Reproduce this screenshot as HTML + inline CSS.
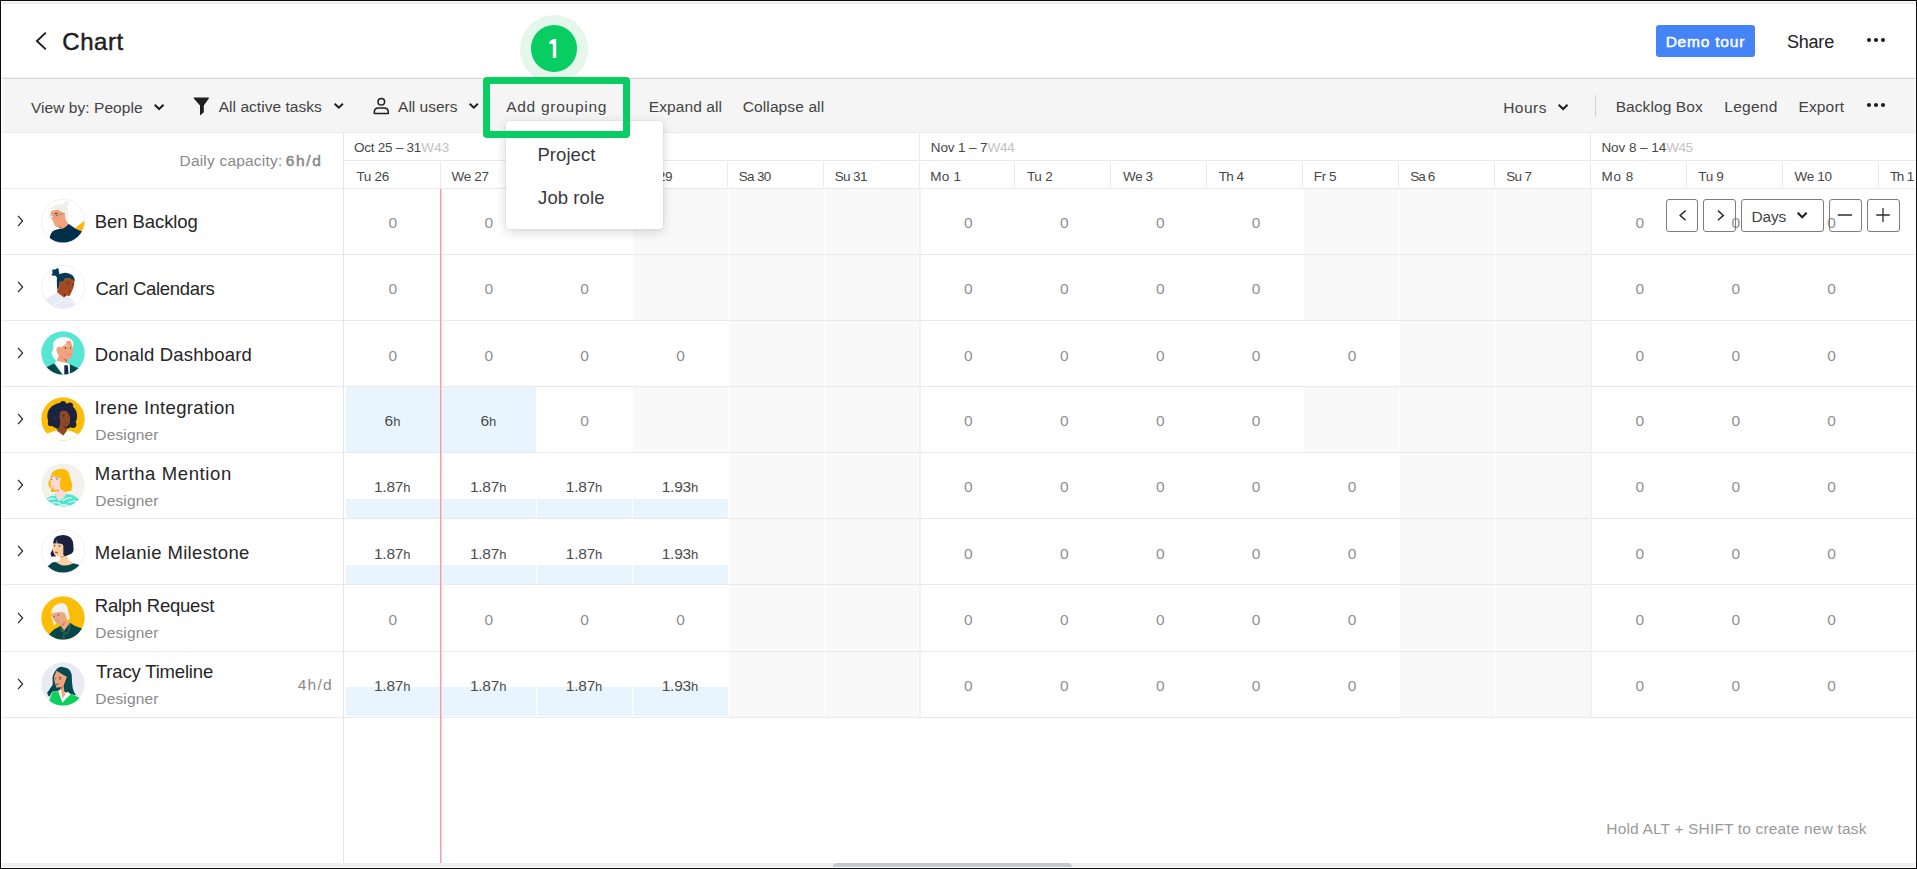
<!DOCTYPE html>
<html lang="en"><head><meta charset="utf-8"><title>Chart</title>
<style>
html,body{margin:0;padding:0;}
body{width:1917px;height:869px;overflow:hidden;background:#fff;position:relative;font-family:"Liberation Sans",sans-serif;}
#app{position:absolute;left:0;top:0;width:1917px;height:869px;overflow:hidden;}
#app div,#app span.t,#app svg{position:absolute;}
span.t{white-space:pre;}
.btn{box-sizing:border-box;border:1px solid #7d7d7d;border-radius:3px;background:transparent;}
</style></head><body><div id="app">
<div style="left:2px;top:2px;width:1913px;height:2px;background:#ececec;"></div>
<div style="left:2px;top:79px;width:1913px;height:53px;background:#f5f5f5;"></div>
<div style="left:2px;top:78px;width:1913px;height:1px;background:#d6d6d6;"></div>
<div style="left:2px;top:77px;width:1913px;height:1px;background:#f3f3f3;"></div>
<div style="left:2px;top:132px;width:1913px;height:1px;background:#ebebeb;"></div>
<div style="left:633px;top:189px;width:95px;height:65px;background:#f9f9f9;"></div>
<div style="left:729px;top:189px;width:95px;height:65px;background:#f9f9f9;"></div>
<div style="left:825px;top:189px;width:95px;height:65px;background:#f9f9f9;"></div>
<div style="left:1304px;top:189px;width:95px;height:65px;background:#f9f9f9;"></div>
<div style="left:1400px;top:189px;width:95px;height:65px;background:#f9f9f9;"></div>
<div style="left:1496px;top:189px;width:95px;height:65px;background:#f9f9f9;"></div>
<div style="left:633px;top:255px;width:95px;height:65px;background:#f9f9f9;"></div>
<div style="left:729px;top:255px;width:95px;height:65px;background:#f9f9f9;"></div>
<div style="left:825px;top:255px;width:95px;height:65px;background:#f9f9f9;"></div>
<div style="left:1304px;top:255px;width:95px;height:65px;background:#f9f9f9;"></div>
<div style="left:1400px;top:255px;width:95px;height:65px;background:#f9f9f9;"></div>
<div style="left:1496px;top:255px;width:95px;height:65px;background:#f9f9f9;"></div>
<div style="left:729px;top:321px;width:95px;height:65px;background:#f9f9f9;"></div>
<div style="left:825px;top:321px;width:95px;height:65px;background:#f9f9f9;"></div>
<div style="left:1400px;top:321px;width:95px;height:65px;background:#f9f9f9;"></div>
<div style="left:1496px;top:321px;width:95px;height:65px;background:#f9f9f9;"></div>
<div style="left:633px;top:387px;width:95px;height:65px;background:#f9f9f9;"></div>
<div style="left:729px;top:387px;width:95px;height:65px;background:#f9f9f9;"></div>
<div style="left:825px;top:387px;width:95px;height:65px;background:#f9f9f9;"></div>
<div style="left:1304px;top:387px;width:95px;height:65px;background:#f9f9f9;"></div>
<div style="left:1400px;top:387px;width:95px;height:65px;background:#f9f9f9;"></div>
<div style="left:1496px;top:387px;width:95px;height:65px;background:#f9f9f9;"></div>
<div style="left:729px;top:453px;width:95px;height:65px;background:#f9f9f9;"></div>
<div style="left:825px;top:453px;width:95px;height:65px;background:#f9f9f9;"></div>
<div style="left:1400px;top:453px;width:95px;height:65px;background:#f9f9f9;"></div>
<div style="left:1496px;top:453px;width:95px;height:65px;background:#f9f9f9;"></div>
<div style="left:729px;top:519px;width:95px;height:65px;background:#f9f9f9;"></div>
<div style="left:825px;top:519px;width:95px;height:65px;background:#f9f9f9;"></div>
<div style="left:1400px;top:519px;width:95px;height:65px;background:#f9f9f9;"></div>
<div style="left:1496px;top:519px;width:95px;height:65px;background:#f9f9f9;"></div>
<div style="left:729px;top:585px;width:95px;height:66px;background:#f9f9f9;"></div>
<div style="left:825px;top:585px;width:95px;height:66px;background:#f9f9f9;"></div>
<div style="left:1400px;top:585px;width:95px;height:66px;background:#f9f9f9;"></div>
<div style="left:1496px;top:585px;width:95px;height:66px;background:#f9f9f9;"></div>
<div style="left:729px;top:652px;width:95px;height:65px;background:#f9f9f9;"></div>
<div style="left:825px;top:652px;width:95px;height:65px;background:#f9f9f9;"></div>
<div style="left:1400px;top:652px;width:95px;height:65px;background:#f9f9f9;"></div>
<div style="left:1496px;top:652px;width:95px;height:65px;background:#f9f9f9;"></div>
<div style="left:346px;top:387px;width:94px;height:65px;background:#e9f5fe;"></div>
<div style="left:442px;top:387px;width:94px;height:65px;background:#e9f5fe;"></div>
<div style="left:346px;top:499px;width:94px;height:19px;background:#e9f5fe;"></div>
<div style="left:442px;top:499px;width:94px;height:19px;background:#e9f5fe;"></div>
<div style="left:537px;top:499px;width:95px;height:19px;background:#e9f5fe;"></div>
<div style="left:633px;top:499px;width:95px;height:19px;background:#e9f5fe;"></div>
<div style="left:346px;top:565px;width:94px;height:19px;background:#e9f5fe;"></div>
<div style="left:442px;top:565px;width:94px;height:19px;background:#e9f5fe;"></div>
<div style="left:537px;top:565px;width:95px;height:19px;background:#e9f5fe;"></div>
<div style="left:633px;top:565px;width:95px;height:19px;background:#e9f5fe;"></div>
<div style="left:346px;top:687px;width:94px;height:29px;background:#e9f5fe;"></div>
<div style="left:442px;top:687px;width:94px;height:29px;background:#e9f5fe;"></div>
<div style="left:537px;top:687px;width:95px;height:29px;background:#e9f5fe;"></div>
<div style="left:633px;top:687px;width:95px;height:29px;background:#e9f5fe;"></div>
<div style="left:2px;top:188px;width:1913px;height:1px;background:#e9e9e9;"></div>
<div style="left:2px;top:254px;width:1913px;height:1px;background:#e9e9e9;"></div>
<div style="left:2px;top:320px;width:1913px;height:1px;background:#e9e9e9;"></div>
<div style="left:2px;top:386px;width:1913px;height:1px;background:#e9e9e9;"></div>
<div style="left:2px;top:452px;width:1913px;height:1px;background:#e9e9e9;"></div>
<div style="left:2px;top:518px;width:1913px;height:1px;background:#e9e9e9;"></div>
<div style="left:2px;top:584px;width:1913px;height:1px;background:#e9e9e9;"></div>
<div style="left:2px;top:651px;width:1913px;height:1px;background:#e9e9e9;"></div>
<div style="left:2px;top:717px;width:1913px;height:1px;background:#e9e9e9;"></div>
<div style="left:344px;top:160px;width:1571px;height:1px;background:#e9e9e9;"></div>
<div style="left:343px;top:133px;width:1px;height:730px;background:#e4e4e4;"></div>
<div style="left:440px;top:162px;width:1px;height:25px;background:#e9e9e9;"></div>
<div style="left:535px;top:162px;width:1px;height:25px;background:#e9e9e9;"></div>
<div style="left:631px;top:162px;width:1px;height:25px;background:#e9e9e9;"></div>
<div style="left:727px;top:162px;width:1px;height:25px;background:#e9e9e9;"></div>
<div style="left:823px;top:162px;width:1px;height:25px;background:#e9e9e9;"></div>
<div style="left:919px;top:133px;width:1px;height:27px;background:#e9e9e9;"></div>
<div style="left:919px;top:162px;width:1px;height:25px;background:#e9e9e9;"></div>
<div style="left:919px;top:189px;width:2px;height:528px;background:#f2f2f2;"></div>
<div style="left:1014px;top:162px;width:1px;height:25px;background:#e9e9e9;"></div>
<div style="left:1110px;top:162px;width:1px;height:25px;background:#e9e9e9;"></div>
<div style="left:1206px;top:162px;width:1px;height:25px;background:#e9e9e9;"></div>
<div style="left:1302px;top:162px;width:1px;height:25px;background:#e9e9e9;"></div>
<div style="left:1398px;top:162px;width:1px;height:25px;background:#e9e9e9;"></div>
<div style="left:1494px;top:162px;width:1px;height:25px;background:#e9e9e9;"></div>
<div style="left:1590px;top:133px;width:1px;height:27px;background:#e9e9e9;"></div>
<div style="left:1590px;top:162px;width:1px;height:25px;background:#e9e9e9;"></div>
<div style="left:1590px;top:189px;width:2px;height:528px;background:#f2f2f2;"></div>
<div style="left:1686px;top:162px;width:1px;height:25px;background:#e9e9e9;"></div>
<div style="left:1782px;top:162px;width:1px;height:25px;background:#e9e9e9;"></div>
<div style="left:1878px;top:162px;width:1px;height:25px;background:#e9e9e9;"></div>
<div style="left:440px;top:189px;width:1px;height:674px;background:#f79da6;"></div>
<div style="left:441px;top:189px;width:1px;height:674px;background:#facdd1;"></div>
<span class="t" style="left:62.30px;top:25px;font-size:24px;line-height:33px;height:33px;color:#1e1e1e;letter-spacing:0.541px;-webkit-text-stroke:0.45px #1e1e1e;">Chart</span>
<svg style="left:30px;top:28px" width="22" height="26" viewBox="0 0 22 26"><path d="M15.8 4.6 L6.9 13 L15.8 21.4" fill="none" stroke="#1e1e1e" stroke-width="1.9"/></svg>
<div style="left:1656px;top:25px;width:99px;height:32px;background:#4584f7;border-radius:3px;"></div>
<span class="t" style="left:1665.63px;top:30px;font-size:15.5px;line-height:23px;height:23px;color:#fff;letter-spacing:0.796px;-webkit-text-stroke:0.5px #fff;">Demo tour</span>
<span class="t" style="left:1786.89px;top:29px;font-size:18px;line-height:26px;height:26px;color:#222;letter-spacing:-0.180px;">Share</span>
<svg style="left:1864.3px;top:36.3px" width="24" height="8" viewBox="0 0 24 8"><circle cx="5" cy="4" r="2.1" fill="#1e1e1e"/><circle cx="12" cy="4" r="2.1" fill="#1e1e1e"/><circle cx="19" cy="4" r="2.1" fill="#1e1e1e"/></svg>
<svg style="left:1864px;top:101px" width="24" height="8" viewBox="0 0 24 8"><circle cx="5" cy="4" r="2.1" fill="#1e1e1e"/><circle cx="12" cy="4" r="2.1" fill="#1e1e1e"/><circle cx="19" cy="4" r="2.1" fill="#1e1e1e"/></svg>
<span class="t" style="left:30.94px;top:96px;font-size:15.5px;line-height:23px;height:23px;color:#434343;letter-spacing:0.055px;">View by: People</span>
<span class="t" style="left:218.72px;top:95px;font-size:15.5px;line-height:23px;height:23px;color:#434343;letter-spacing:0.039px;">All active tasks</span>
<span class="t" style="left:398.07px;top:95px;font-size:15.5px;line-height:23px;height:23px;color:#434343;letter-spacing:-0.007px;">All users</span>
<span class="t" style="left:506.17px;top:95px;font-size:15.5px;line-height:23px;height:23px;color:#434343;letter-spacing:0.728px;">Add grouping</span>
<span class="t" style="left:648.73px;top:95px;font-size:15.5px;line-height:23px;height:23px;color:#434343;letter-spacing:0.101px;">Expand all</span>
<span class="t" style="left:742.73px;top:95px;font-size:15.5px;line-height:23px;height:23px;color:#434343;letter-spacing:0.116px;">Collapse all</span>
<span class="t" style="left:1503.13px;top:96px;font-size:15.5px;line-height:23px;height:23px;color:#434343;letter-spacing:0.494px;">Hours</span>
<span class="t" style="left:1615.63px;top:95px;font-size:15.5px;line-height:23px;height:23px;color:#434343;letter-spacing:0.086px;">Backlog Box</span>
<span class="t" style="left:1724.23px;top:95px;font-size:15.5px;line-height:23px;height:23px;color:#434343;letter-spacing:0.288px;">Legend</span>
<span class="t" style="left:1798.48px;top:95px;font-size:15.5px;line-height:23px;height:23px;color:#434343;letter-spacing:0.147px;">Export</span>
<div style="left:1595px;top:95px;width:1px;height:22px;background:#d2d2d2;"></div>
<svg style="left:151.75px;top:101.50px" width="14.25" height="9.90" viewBox="-2 -2 14.25 9.90"><path d="M0.7 0.7 L5.12 5.00 L9.55 0.7" fill="none" stroke="#1e1e1e" stroke-width="2.0"/></svg>
<svg style="left:331.50px;top:101.30px" width="13.60" height="9.60" viewBox="-2 -2 13.60 9.60"><path d="M0.7 0.7 L4.80 4.70 L8.90 0.7" fill="none" stroke="#1e1e1e" stroke-width="2.0"/></svg>
<svg style="left:466.50px;top:101.30px" width="13.60" height="9.60" viewBox="-2 -2 13.60 9.60"><path d="M0.7 0.7 L4.80 4.70 L8.90 0.7" fill="none" stroke="#1e1e1e" stroke-width="2.0"/></svg>
<svg style="left:1555.50px;top:101.50px" width="14.25" height="9.90" viewBox="-2 -2 14.25 9.90"><path d="M0.7 0.7 L5.12 5.00 L9.55 0.7" fill="none" stroke="#1e1e1e" stroke-width="2.0"/></svg>
<svg style="left:192px;top:96px" width="18" height="21" viewBox="0 0 18 21"><path d="M2.2 1.5 H16.4 Q17.3 1.5 16.8 2.4 L11.8 9.4 V16.3 L8 19.4 V9.4 L1.8 2.4 Q1.3 1.5 2.2 1.5 Z" fill="#1e1e1e"/></svg>
<svg style="left:372px;top:96px" width="19" height="20" viewBox="0 0 19 20"><circle cx="9.3" cy="5.8" r="3.3" fill="none" stroke="#1e1e1e" stroke-width="1.5"/><path d="M2.3 17.4 V16 Q2.3 11.9 6.6 11.9 H12 Q16.3 11.9 16.3 16 V17.4 Z" fill="none" stroke="#1e1e1e" stroke-width="1.5" stroke-linejoin="round"/></svg>
<span class="t" style="left:179.53px;top:149px;font-size:15.5px;line-height:23px;height:23px;color:#8a8a8a;letter-spacing:0.197px;">Daily capacity:</span>
<span class="t" style="left:285.83px;top:149px;font-size:15.5px;line-height:23px;height:23px;color:#868686;letter-spacing:1.601px;-webkit-text-stroke:0.45px #868686;">6h/d</span>
<span class="t" style="left:353.97px;top:137px;font-size:13.5px;line-height:21px;height:21px;color:#474747;letter-spacing:-0.251px;">Oct 25 – 31</span>
<span class="t" style="left:421.25px;top:137px;font-size:13.5px;line-height:21px;height:21px;color:#c2c2c2;letter-spacing:0.139px;">W43</span>
<span class="t" style="left:930.79px;top:137px;font-size:13.5px;line-height:21px;height:21px;color:#474747;letter-spacing:-0.125px;">Nov 1 – 7</span>
<span class="t" style="left:987.55px;top:137px;font-size:13.5px;line-height:21px;height:21px;color:#c2c2c2;letter-spacing:-0.255px;">W44</span>
<span class="t" style="left:1601.39px;top:137px;font-size:13.5px;line-height:21px;height:21px;color:#474747;letter-spacing:-0.054px;">Nov 8 – 14</span>
<span class="t" style="left:1666.35px;top:137px;font-size:13.5px;line-height:21px;height:21px;color:#c2c2c2;letter-spacing:-0.524px;">W45</span>
<span class="t" style="left:356.45px;top:166px;font-size:13.5px;line-height:21px;height:21px;color:#474747;letter-spacing:-0.311px;">Tu 26</span>
<span class="t" style="left:451.57px;top:166px;font-size:13.5px;line-height:21px;height:21px;color:#474747;letter-spacing:-0.336px;">We 27</span>
<span class="t" style="left:547.25px;top:166px;font-size:13.5px;line-height:21px;height:21px;color:#474747;letter-spacing:-0.473px;">Th 28</span>
<span class="t" style="left:642.37px;top:166px;font-size:13.5px;line-height:21px;height:21px;color:#474747;letter-spacing:-0.367px;">Fr 29</span>
<span class="t" style="left:738.79px;top:166px;font-size:13.5px;line-height:21px;height:21px;color:#474747;letter-spacing:-0.689px;">Sa 30</span>
<span class="t" style="left:834.72px;top:166px;font-size:13.5px;line-height:21px;height:21px;color:#474747;letter-spacing:-0.630px;">Su 31</span>
<span class="t" style="left:930.14px;top:166px;font-size:13.5px;line-height:21px;height:21px;color:#474747;letter-spacing:0.282px;">Mo 1</span>
<span class="t" style="left:1026.88px;top:166px;font-size:13.5px;line-height:21px;height:21px;color:#474747;letter-spacing:-0.247px;">Tu 2</span>
<span class="t" style="left:1123.05px;top:166px;font-size:13.5px;line-height:21px;height:21px;color:#474747;letter-spacing:-0.410px;">We 3</span>
<span class="t" style="left:1218.73px;top:166px;font-size:13.5px;line-height:21px;height:21px;color:#474747;letter-spacing:-0.608px;">Th 4</span>
<span class="t" style="left:1313.84px;top:166px;font-size:13.5px;line-height:21px;height:21px;color:#474747;letter-spacing:-0.448px;">Fr 5</span>
<span class="t" style="left:1410.27px;top:166px;font-size:13.5px;line-height:21px;height:21px;color:#474747;letter-spacing:-0.927px;">Sa 6</span>
<span class="t" style="left:1506.19px;top:166px;font-size:13.5px;line-height:21px;height:21px;color:#474747;letter-spacing:-0.629px;">Su 7</span>
<span class="t" style="left:1601.62px;top:166px;font-size:13.5px;line-height:21px;height:21px;color:#474747;letter-spacing:0.526px;">Mo 8</span>
<span class="t" style="left:1698.35px;top:166px;font-size:13.5px;line-height:21px;height:21px;color:#474747;letter-spacing:-0.328px;">Tu 9</span>
<span class="t" style="left:1794.52px;top:166px;font-size:13.5px;line-height:21px;height:21px;color:#474747;letter-spacing:-0.326px;">We 10</span>
<span class="t" style="left:1890.00px;top:166px;font-size:13.5px;line-height:21px;height:21px;color:#474747;letter-spacing:-1.393px;">Th</span>
<span class="t" style="left:1906.67px;top:166px;font-size:13.5px;line-height:21px;height:21px;color:#474747;">1</span>
<svg style="left:14px;top:212.0px" width="14" height="18" viewBox="0 0 14 18"><path d="M4 3.9 L8.6 9 L4 14.1" fill="none" stroke="#2a2a2a" stroke-width="1.2"/></svg>
<span class="t" style="left:94.78px;top:208px;font-size:18.5px;line-height:27px;height:27px;color:#262626;letter-spacing:-0.078px;">Ben Backlog</span>
<svg style="left:14px;top:278.1px" width="14" height="18" viewBox="0 0 14 18"><path d="M4 3.9 L8.6 9 L4 14.1" fill="none" stroke="#2a2a2a" stroke-width="1.2"/></svg>
<span class="t" style="left:95.38px;top:275px;font-size:18.5px;line-height:27px;height:27px;color:#262626;letter-spacing:-0.299px;">Carl Calendars</span>
<svg style="left:14px;top:344.2px" width="14" height="18" viewBox="0 0 14 18"><path d="M4 3.9 L8.6 9 L4 14.1" fill="none" stroke="#2a2a2a" stroke-width="1.2"/></svg>
<span class="t" style="left:94.78px;top:341px;font-size:18.5px;line-height:27px;height:27px;color:#262626;letter-spacing:0.182px;">Donald Dashboard</span>
<svg style="left:14px;top:410.3px" width="14" height="18" viewBox="0 0 14 18"><path d="M4 3.9 L8.6 9 L4 14.1" fill="none" stroke="#2a2a2a" stroke-width="1.2"/></svg>
<span class="t" style="left:94.60px;top:394px;font-size:18.5px;line-height:27px;height:27px;color:#262626;letter-spacing:0.347px;">Irene Integration</span>
<span class="t" style="left:95.33px;top:423px;font-size:15.5px;line-height:23px;height:23px;color:#8a8a8a;letter-spacing:0.141px;">Designer</span>
<svg style="left:14px;top:476.3px" width="14" height="18" viewBox="0 0 14 18"><path d="M4 3.9 L8.6 9 L4 14.1" fill="none" stroke="#2a2a2a" stroke-width="1.2"/></svg>
<span class="t" style="left:94.78px;top:460px;font-size:18.5px;line-height:27px;height:27px;color:#262626;letter-spacing:0.613px;">Martha Mention</span>
<span class="t" style="left:95.33px;top:489px;font-size:15.5px;line-height:23px;height:23px;color:#8a8a8a;letter-spacing:0.141px;">Designer</span>
<svg style="left:14px;top:542.4px" width="14" height="18" viewBox="0 0 14 18"><path d="M4 3.9 L8.6 9 L4 14.1" fill="none" stroke="#2a2a2a" stroke-width="1.2"/></svg>
<span class="t" style="left:94.78px;top:539px;font-size:18.5px;line-height:27px;height:27px;color:#262626;letter-spacing:0.340px;">Melanie Milestone</span>
<svg style="left:14px;top:608.5px" width="14" height="18" viewBox="0 0 14 18"><path d="M4 3.9 L8.6 9 L4 14.1" fill="none" stroke="#2a2a2a" stroke-width="1.2"/></svg>
<span class="t" style="left:94.78px;top:592px;font-size:18.5px;line-height:27px;height:27px;color:#262626;letter-spacing:-0.236px;">Ralph Request</span>
<span class="t" style="left:95.33px;top:621px;font-size:15.5px;line-height:23px;height:23px;color:#8a8a8a;letter-spacing:0.141px;">Designer</span>
<svg style="left:14px;top:674.7px" width="14" height="18" viewBox="0 0 14 18"><path d="M4 3.9 L8.6 9 L4 14.1" fill="none" stroke="#2a2a2a" stroke-width="1.2"/></svg>
<span class="t" style="left:95.89px;top:658px;font-size:18.5px;line-height:27px;height:27px;color:#262626;letter-spacing:-0.174px;">Tracy Timeline</span>
<span class="t" style="left:95.33px;top:687px;font-size:15.5px;line-height:23px;height:23px;color:#8a8a8a;letter-spacing:0.141px;">Designer</span>
<span class="t" style="left:297.66px;top:673px;font-size:15.5px;line-height:23px;height:23px;color:#8a8a8a;letter-spacing:1.290px;">4h/d</span>
<span class="t" style="left:388.48px;top:211px;font-size:15.5px;line-height:23px;height:23px;color:#909090;">0</span>
<span class="t" style="left:484.41px;top:211px;font-size:15.5px;line-height:23px;height:23px;color:#909090;">0</span>
<span class="t" style="left:580.33px;top:211px;font-size:15.5px;line-height:23px;height:23px;color:#909090;">0</span>
<span class="t" style="left:964.03px;top:211px;font-size:15.5px;line-height:23px;height:23px;color:#909090;">0</span>
<span class="t" style="left:1059.96px;top:211px;font-size:15.5px;line-height:23px;height:23px;color:#909090;">0</span>
<span class="t" style="left:1155.88px;top:211px;font-size:15.5px;line-height:23px;height:23px;color:#909090;">0</span>
<span class="t" style="left:1251.81px;top:211px;font-size:15.5px;line-height:23px;height:23px;color:#909090;">0</span>
<span class="t" style="left:1635.51px;top:211px;font-size:15.5px;line-height:23px;height:23px;color:#909090;">0</span>
<span class="t" style="left:1731.43px;top:211px;font-size:15.5px;line-height:23px;height:23px;color:#909090;">0</span>
<span class="t" style="left:1827.36px;top:211px;font-size:15.5px;line-height:23px;height:23px;color:#909090;">0</span>
<span class="t" style="left:388.48px;top:277px;font-size:15.5px;line-height:23px;height:23px;color:#909090;">0</span>
<span class="t" style="left:484.41px;top:277px;font-size:15.5px;line-height:23px;height:23px;color:#909090;">0</span>
<span class="t" style="left:580.33px;top:277px;font-size:15.5px;line-height:23px;height:23px;color:#909090;">0</span>
<span class="t" style="left:964.03px;top:277px;font-size:15.5px;line-height:23px;height:23px;color:#909090;">0</span>
<span class="t" style="left:1059.96px;top:277px;font-size:15.5px;line-height:23px;height:23px;color:#909090;">0</span>
<span class="t" style="left:1155.88px;top:277px;font-size:15.5px;line-height:23px;height:23px;color:#909090;">0</span>
<span class="t" style="left:1251.81px;top:277px;font-size:15.5px;line-height:23px;height:23px;color:#909090;">0</span>
<span class="t" style="left:1635.51px;top:277px;font-size:15.5px;line-height:23px;height:23px;color:#909090;">0</span>
<span class="t" style="left:1731.43px;top:277px;font-size:15.5px;line-height:23px;height:23px;color:#909090;">0</span>
<span class="t" style="left:1827.36px;top:277px;font-size:15.5px;line-height:23px;height:23px;color:#909090;">0</span>
<span class="t" style="left:388.48px;top:344px;font-size:15.5px;line-height:23px;height:23px;color:#909090;">0</span>
<span class="t" style="left:484.41px;top:344px;font-size:15.5px;line-height:23px;height:23px;color:#909090;">0</span>
<span class="t" style="left:580.33px;top:344px;font-size:15.5px;line-height:23px;height:23px;color:#909090;">0</span>
<span class="t" style="left:676.26px;top:344px;font-size:15.5px;line-height:23px;height:23px;color:#909090;">0</span>
<span class="t" style="left:964.03px;top:344px;font-size:15.5px;line-height:23px;height:23px;color:#909090;">0</span>
<span class="t" style="left:1059.96px;top:344px;font-size:15.5px;line-height:23px;height:23px;color:#909090;">0</span>
<span class="t" style="left:1155.88px;top:344px;font-size:15.5px;line-height:23px;height:23px;color:#909090;">0</span>
<span class="t" style="left:1251.81px;top:344px;font-size:15.5px;line-height:23px;height:23px;color:#909090;">0</span>
<span class="t" style="left:1347.73px;top:344px;font-size:15.5px;line-height:23px;height:23px;color:#909090;">0</span>
<span class="t" style="left:1635.51px;top:344px;font-size:15.5px;line-height:23px;height:23px;color:#909090;">0</span>
<span class="t" style="left:1731.43px;top:344px;font-size:15.5px;line-height:23px;height:23px;color:#909090;">0</span>
<span class="t" style="left:1827.36px;top:344px;font-size:15.5px;line-height:23px;height:23px;color:#909090;">0</span>
<span class="t" style="left:384.48px;top:409px;font-size:15.5px;line-height:23px;height:23px;color:#4c4c4c;">6</span>
<span class="t" style="left:393.15px;top:411px;font-size:13px;line-height:21px;height:21px;color:#4c4c4c;">h</span>
<span class="t" style="left:480.40px;top:409px;font-size:15.5px;line-height:23px;height:23px;color:#4c4c4c;">6</span>
<span class="t" style="left:489.08px;top:411px;font-size:13px;line-height:21px;height:21px;color:#4c4c4c;">h</span>
<span class="t" style="left:580.33px;top:409px;font-size:15.5px;line-height:23px;height:23px;color:#909090;">0</span>
<span class="t" style="left:964.03px;top:409px;font-size:15.5px;line-height:23px;height:23px;color:#909090;">0</span>
<span class="t" style="left:1059.96px;top:409px;font-size:15.5px;line-height:23px;height:23px;color:#909090;">0</span>
<span class="t" style="left:1155.88px;top:409px;font-size:15.5px;line-height:23px;height:23px;color:#909090;">0</span>
<span class="t" style="left:1251.81px;top:409px;font-size:15.5px;line-height:23px;height:23px;color:#909090;">0</span>
<span class="t" style="left:1635.51px;top:409px;font-size:15.5px;line-height:23px;height:23px;color:#909090;">0</span>
<span class="t" style="left:1731.43px;top:409px;font-size:15.5px;line-height:23px;height:23px;color:#909090;">0</span>
<span class="t" style="left:1827.36px;top:409px;font-size:15.5px;line-height:23px;height:23px;color:#909090;">0</span>
<span class="t" style="left:373.97px;top:475px;font-size:15.5px;line-height:23px;height:23px;color:#4c4c4c;letter-spacing:-0.237px;">1.87</span>
<span class="t" style="left:403.25px;top:477px;font-size:13px;line-height:21px;height:21px;color:#4c4c4c;">h</span>
<span class="t" style="left:469.90px;top:475px;font-size:15.5px;line-height:23px;height:23px;color:#4c4c4c;letter-spacing:-0.237px;">1.87</span>
<span class="t" style="left:499.18px;top:477px;font-size:13px;line-height:21px;height:21px;color:#4c4c4c;">h</span>
<span class="t" style="left:565.82px;top:475px;font-size:15.5px;line-height:23px;height:23px;color:#4c4c4c;letter-spacing:-0.237px;">1.87</span>
<span class="t" style="left:595.10px;top:477px;font-size:13px;line-height:21px;height:21px;color:#4c4c4c;">h</span>
<span class="t" style="left:661.75px;top:475px;font-size:15.5px;line-height:23px;height:23px;color:#4c4c4c;letter-spacing:-0.273px;">1.93</span>
<span class="t" style="left:691.03px;top:477px;font-size:13px;line-height:21px;height:21px;color:#4c4c4c;">h</span>
<span class="t" style="left:964.03px;top:475px;font-size:15.5px;line-height:23px;height:23px;color:#909090;">0</span>
<span class="t" style="left:1059.96px;top:475px;font-size:15.5px;line-height:23px;height:23px;color:#909090;">0</span>
<span class="t" style="left:1155.88px;top:475px;font-size:15.5px;line-height:23px;height:23px;color:#909090;">0</span>
<span class="t" style="left:1251.81px;top:475px;font-size:15.5px;line-height:23px;height:23px;color:#909090;">0</span>
<span class="t" style="left:1347.73px;top:475px;font-size:15.5px;line-height:23px;height:23px;color:#909090;">0</span>
<span class="t" style="left:1635.51px;top:475px;font-size:15.5px;line-height:23px;height:23px;color:#909090;">0</span>
<span class="t" style="left:1731.43px;top:475px;font-size:15.5px;line-height:23px;height:23px;color:#909090;">0</span>
<span class="t" style="left:1827.36px;top:475px;font-size:15.5px;line-height:23px;height:23px;color:#909090;">0</span>
<span class="t" style="left:373.97px;top:542px;font-size:15.5px;line-height:23px;height:23px;color:#4c4c4c;letter-spacing:-0.237px;">1.87</span>
<span class="t" style="left:403.25px;top:544px;font-size:13px;line-height:21px;height:21px;color:#4c4c4c;">h</span>
<span class="t" style="left:469.90px;top:542px;font-size:15.5px;line-height:23px;height:23px;color:#4c4c4c;letter-spacing:-0.237px;">1.87</span>
<span class="t" style="left:499.18px;top:544px;font-size:13px;line-height:21px;height:21px;color:#4c4c4c;">h</span>
<span class="t" style="left:565.82px;top:542px;font-size:15.5px;line-height:23px;height:23px;color:#4c4c4c;letter-spacing:-0.237px;">1.87</span>
<span class="t" style="left:595.10px;top:544px;font-size:13px;line-height:21px;height:21px;color:#4c4c4c;">h</span>
<span class="t" style="left:661.75px;top:542px;font-size:15.5px;line-height:23px;height:23px;color:#4c4c4c;letter-spacing:-0.273px;">1.93</span>
<span class="t" style="left:691.03px;top:544px;font-size:13px;line-height:21px;height:21px;color:#4c4c4c;">h</span>
<span class="t" style="left:964.03px;top:542px;font-size:15.5px;line-height:23px;height:23px;color:#909090;">0</span>
<span class="t" style="left:1059.96px;top:542px;font-size:15.5px;line-height:23px;height:23px;color:#909090;">0</span>
<span class="t" style="left:1155.88px;top:542px;font-size:15.5px;line-height:23px;height:23px;color:#909090;">0</span>
<span class="t" style="left:1251.81px;top:542px;font-size:15.5px;line-height:23px;height:23px;color:#909090;">0</span>
<span class="t" style="left:1347.73px;top:542px;font-size:15.5px;line-height:23px;height:23px;color:#909090;">0</span>
<span class="t" style="left:1635.51px;top:542px;font-size:15.5px;line-height:23px;height:23px;color:#909090;">0</span>
<span class="t" style="left:1731.43px;top:542px;font-size:15.5px;line-height:23px;height:23px;color:#909090;">0</span>
<span class="t" style="left:1827.36px;top:542px;font-size:15.5px;line-height:23px;height:23px;color:#909090;">0</span>
<span class="t" style="left:388.48px;top:608px;font-size:15.5px;line-height:23px;height:23px;color:#909090;">0</span>
<span class="t" style="left:484.41px;top:608px;font-size:15.5px;line-height:23px;height:23px;color:#909090;">0</span>
<span class="t" style="left:580.33px;top:608px;font-size:15.5px;line-height:23px;height:23px;color:#909090;">0</span>
<span class="t" style="left:676.26px;top:608px;font-size:15.5px;line-height:23px;height:23px;color:#909090;">0</span>
<span class="t" style="left:964.03px;top:608px;font-size:15.5px;line-height:23px;height:23px;color:#909090;">0</span>
<span class="t" style="left:1059.96px;top:608px;font-size:15.5px;line-height:23px;height:23px;color:#909090;">0</span>
<span class="t" style="left:1155.88px;top:608px;font-size:15.5px;line-height:23px;height:23px;color:#909090;">0</span>
<span class="t" style="left:1251.81px;top:608px;font-size:15.5px;line-height:23px;height:23px;color:#909090;">0</span>
<span class="t" style="left:1347.73px;top:608px;font-size:15.5px;line-height:23px;height:23px;color:#909090;">0</span>
<span class="t" style="left:1635.51px;top:608px;font-size:15.5px;line-height:23px;height:23px;color:#909090;">0</span>
<span class="t" style="left:1731.43px;top:608px;font-size:15.5px;line-height:23px;height:23px;color:#909090;">0</span>
<span class="t" style="left:1827.36px;top:608px;font-size:15.5px;line-height:23px;height:23px;color:#909090;">0</span>
<span class="t" style="left:373.97px;top:674px;font-size:15.5px;line-height:23px;height:23px;color:#4c4c4c;letter-spacing:-0.237px;">1.87</span>
<span class="t" style="left:403.25px;top:676px;font-size:13px;line-height:21px;height:21px;color:#4c4c4c;">h</span>
<span class="t" style="left:469.90px;top:674px;font-size:15.5px;line-height:23px;height:23px;color:#4c4c4c;letter-spacing:-0.237px;">1.87</span>
<span class="t" style="left:499.18px;top:676px;font-size:13px;line-height:21px;height:21px;color:#4c4c4c;">h</span>
<span class="t" style="left:565.82px;top:674px;font-size:15.5px;line-height:23px;height:23px;color:#4c4c4c;letter-spacing:-0.237px;">1.87</span>
<span class="t" style="left:595.10px;top:676px;font-size:13px;line-height:21px;height:21px;color:#4c4c4c;">h</span>
<span class="t" style="left:661.75px;top:674px;font-size:15.5px;line-height:23px;height:23px;color:#4c4c4c;letter-spacing:-0.273px;">1.93</span>
<span class="t" style="left:691.03px;top:676px;font-size:13px;line-height:21px;height:21px;color:#4c4c4c;">h</span>
<span class="t" style="left:964.03px;top:674px;font-size:15.5px;line-height:23px;height:23px;color:#909090;">0</span>
<span class="t" style="left:1059.96px;top:674px;font-size:15.5px;line-height:23px;height:23px;color:#909090;">0</span>
<span class="t" style="left:1155.88px;top:674px;font-size:15.5px;line-height:23px;height:23px;color:#909090;">0</span>
<span class="t" style="left:1251.81px;top:674px;font-size:15.5px;line-height:23px;height:23px;color:#909090;">0</span>
<span class="t" style="left:1347.73px;top:674px;font-size:15.5px;line-height:23px;height:23px;color:#909090;">0</span>
<span class="t" style="left:1635.51px;top:674px;font-size:15.5px;line-height:23px;height:23px;color:#909090;">0</span>
<span class="t" style="left:1731.43px;top:674px;font-size:15.5px;line-height:23px;height:23px;color:#909090;">0</span>
<span class="t" style="left:1827.36px;top:674px;font-size:15.5px;line-height:23px;height:23px;color:#909090;">0</span>
<div class="btn" style="left:1666px;top:199px;width:32px;height:33px"></div>
<div class="btn" style="left:1703px;top:199px;width:33px;height:33px"></div>
<div class="btn" style="left:1741px;top:199px;width:83px;height:33px"></div>
<div class="btn" style="left:1829px;top:199px;width:33px;height:33px"></div>
<div class="btn" style="left:1867px;top:199px;width:33px;height:33px"></div>
<svg style="left:1674px;top:205px" width="18" height="21" viewBox="0 0 18 21"><path d="M11.6 5.6 L6.1 10.4 L11.6 15.2" fill="none" stroke="#2a2a2a" stroke-width="1.4"/></svg>
<svg style="left:1711px;top:205px" width="18" height="21" viewBox="0 0 18 21"><path d="M6.9 5.6 L12.4 10.4 L6.9 15.2" fill="none" stroke="#2a2a2a" stroke-width="1.4"/></svg>
<span class="t" style="left:1751.53px;top:205px;font-size:15.5px;line-height:23px;height:23px;color:#434343;letter-spacing:-0.160px;">Days</span>
<svg style="left:1795.40px;top:210.30px" width="14.40" height="10.20" viewBox="-2 -2 14.40 10.20"><path d="M0.7 0.7 L5.20 5.30 L9.70 0.7" fill="none" stroke="#1e1e1e" stroke-width="2.0"/></svg>
<svg style="left:1829px;top:199px" width="71" height="33" viewBox="0 0 71 33"><path d="M8.8 16 H23 M47.2 16 H60.8 M54 9 V23" fill="none" stroke="#2e2e2e" stroke-width="1.3"/></svg>
<span class="t" style="left:1606.33px;top:817px;font-size:15.5px;line-height:23px;height:23px;color:#9a9a9a;letter-spacing:0.161px;">Hold ALT + SHIFT to create new task</span>
<div style="left:2px;top:863px;width:1913px;height:4px;background:#edeef0;"></div>
<div style="left:833px;top:863px;width:239px;height:4px;background:#c5c9d2;border-radius:4px 4px 0 0;"></div>
<div style="left:506px;top:121px;width:157px;height:108px;background:#fff;border-radius:4px;box-shadow:0 3px 12px rgba(0,0,0,.16),0 0 3px rgba(0,0,0,.08);"></div>
<span class="t" style="left:537.38px;top:141px;font-size:18.5px;line-height:27px;height:27px;color:#3a3a3a;letter-spacing:0.076px;">Project</span>
<span class="t" style="left:538.12px;top:184px;font-size:18.5px;line-height:27px;height:27px;color:#3a3a3a;letter-spacing:0.070px;">Job role</span>
<div style="left:520px;top:14.5px;width:68px;height:68px;border-radius:50%;background:#e5f6ea"></div>
<div style="left:530.7px;top:25.4px;width:46.4px;height:46.4px;border-radius:50%;background:#08cd62"></div>
<svg style="left:540px;top:32px" width="26" height="32" viewBox="0 0 26 32" role="img" aria-label="1"><title>1</title><path d="M13.5 7 L16.25 7 L16.25 26 L12.85 26 L12.85 11.9 L9.4 11.95 L9.4 9.5 Z" fill="#fff"/></svg>
<div style="left:483px;top:77px;width:147px;height:61px;box-sizing:border-box;border:7px solid #08cd62;border-radius:4px;"></div>
<svg style="left:40.6px;top:199.0px" width="44" height="44" viewBox="0 0 44 44"><defs><clipPath id="c0"><circle cx="22" cy="22" r="21.6"/></clipPath></defs><circle cx="22" cy="22" r="21.6" fill="#fff" stroke="#ececec" stroke-width=".8"/><g clip-path="url(#c0)">
<path d="M43.6 21.4 L34 29 L40.6 32.8 L44 28Z" fill="#fdb913"/>
<path d="M27.3 24.8 L34.8 29.8 L41.5 32.8 L42 44 L8 44 L8.7 39.7 Q9 33 14 31 L19 29.8 Q24 29 27.3 24.8Z" fill="#01304a"/>
<path d="M9.9 11.8 L16.8 10.5 L22.3 13.6 L24.2 13.6 L24.4 19.9 L27.5 24.9 Q24 29.5 19.4 29.9 L18 28.6 Q15 29 13 24.8 L11.6 21.1 L9.3 18.6Z" fill="#f2a27d"/>
<path d="M18.2 26.5 L20.5 28.8 L19 29.8Z" fill="#e0553c"/>
<circle cx="25.5" cy="4.5" r="2.5" fill="#f0f0ea"/>
<path d="M9.6 11.9 C9.9 6.8 15.5 4.6 22.3 5.4 C26.6 6 27.4 10.5 26.6 15.5 L26.2 20.2 L24.3 19.8 L24.2 14 L22.3 13.6 L16.8 10.6Z" fill="#f0f0ea"/>
<circle cx="15.6" cy="16.6" r="2.2" fill="none" stroke="#8a7a70" stroke-width=".35"/><path d="M17.8 16 L22.5 14.6" stroke="#6b6b6b" stroke-width=".45"/><circle cx="10.2" cy="17.8" r="1.6" fill="#eef2f6" stroke="#b5b5b5" stroke-width=".3"/>
<path d="M13.8 14.4 L16.6 14.3" stroke="#25303a" stroke-width=".9"/><circle cx="15.5" cy="16.6" r=".5" fill="#25303a"/>
</g></svg>
<svg style="left:40.6px;top:265.1px" width="44" height="44" viewBox="0 0 44 44"><defs><clipPath id="c1"><circle cx="22" cy="22" r="21.6"/></clipPath></defs><circle cx="22" cy="22" r="21.6" fill="#fff" stroke="#ececec" stroke-width=".8"/><g clip-path="url(#c1)">
<path d="M16.1 27.3 L23 32.3 L24.8 30.7 L30.4 33.5 Q34 36.5 35.8 44 L4 44 L4 34.5 Q9 31.5 16.1 27.3Z" fill="#e9ebf4"/>
<path d="M13 41 Q17 35.5 24 35.2 Q29 35.5 32 37.5" fill="none" stroke="#f7f8fc" stroke-width=".9"/>
<path d="M18 18.6 L19.9 16.1 L22.3 16.1 L24.8 13 L29.8 13.6 L33.5 15.5 L33 21.1 L31 26.1 L28.7 31 L24.9 30.5 L23 32.4 L16.1 27.3 L16.4 24.8 L18.6 21.7Z" fill="#a44a22"/>
<path d="M23 28.6 L24.9 30.6 L23.2 32.3Z" fill="#6e1d14"/><path d="M27 25.6 L30 26.2 L28.6 27Z" fill="#7a2418"/>
<circle cx="14.8" cy="7.6" r="3.3" fill="#063a54"/><circle cx="16.4" cy="4.6" r="1.3" fill="#063a54"/><circle cx="12" cy="9.6" r="1.2" fill="#063a54"/><circle cx="12.2" cy="5.6" r="1.1" fill="#063a54"/><path d="M14.5 10 L19.5 8.6 L20 13 L16.5 14Z" fill="#063a54"/>
<path d="M16.1 24.4 L15.8 15.5 Q15.6 10.5 19.9 8.7 Q26 6 31.7 10.5 Q33.6 12.5 33.9 16 L29.8 13.7 L24.8 13 L22.3 16.2 L19.9 16.2 L18 18.6 L18.6 21.7Z" fill="#063a54"/>
<path d="M25.2 17.3 L28 17" stroke="#3a2320" stroke-width=".7"/><circle cx="26.8" cy="19.2" r=".55" fill="#1c2230"/><circle cx="31.6" cy="19.4" r=".5" fill="#1c2230"/>
</g></svg>
<svg style="left:40.6px;top:331.2px" width="44" height="44" viewBox="0 0 44 44"><defs><clipPath id="c2"><circle cx="22" cy="22" r="21.6"/></clipPath></defs><circle cx="22" cy="22" r="21.7" fill="#57e6d3"/><g clip-path="url(#c2)">
<path d="M15.5 30 Q11 26 10.8 21.7 Q11 19.5 12.4 18 Q10.5 12 15.5 8.1 Q22 4.5 28.6 7.4 Q32.8 9.5 32.3 13 L31.9 17 L24 30Z" fill="#fff"/>
<path d="M16.1 16.8 Q18 15 19.9 16.6 L24.8 13 L25.5 10.2 Q27.5 8.8 29.8 9.9 L31.5 15.5 L31.9 21.1 L30.4 27.3 L25.6 28.6 L26.2 32.4 L15.5 29.8 L18 24.2 Q15.5 22.5 15.3 18.5Z" fill="#f0a27f"/>
<path d="M21.5 27.2 L25.8 28.6 L26.1 31Z" fill="#e25a3e"/>
<path d="M13.6 31.7 L15.5 29.8 L26.1 32.3 L28.9 33.2 L28.9 44 L21.7 44Z" fill="#fff"/>
<path d="M23.3 34.2 L26.7 34.2 L27.7 44 L23.3 44Z" fill="#1a2447"/>
<path d="M3 37.6 L13 32.6 L21.9 44 L3 44Z" fill="#06484c"/><path d="M28.9 33.2 L39 38 L38 44 L28.9 44Z" fill="#06484c"/>
<circle cx="24.5" cy="17" r=".7" fill="#222"/><circle cx="29.6" cy="17" r=".6" fill="#222"/>
<path d="M25.8 23.6 Q28 24.6 30 23.4 Q28 25.6 25.8 23.6Z" fill="#fff" stroke="#d9705a" stroke-width=".4"/>
<path d="M24.6 14.6 L27 14.2" stroke="#e9e4e0" stroke-width=".9"/>
</g></svg>
<svg style="left:40.6px;top:397.3px" width="44" height="44" viewBox="0 0 44 44"><defs><clipPath id="c3"><circle cx="22" cy="22" r="21.6"/></clipPath></defs><circle cx="22" cy="22" r="21.7" fill="#fcbd06"/><g clip-path="url(#c3)">
<path d="M3 38 L10.5 35 L15.5 33.2 L22.3 38.5 L26.1 33.5 L30 34 L37.5 37.5 L41 44 L3 44Z" fill="#fff"/>
<ellipse cx="21.2" cy="19" rx="14.9" ry="13.3" fill="#1b2340"/><circle cx="10" cy="26" r="3.2" fill="#1b2340"/><circle cx="32" cy="27.5" r="3.4" fill="#1b2340"/><circle cx="29" cy="8.5" r="3" fill="#1b2340"/><circle cx="22" cy="7" r="3" fill="#1b2340"/>
<path d="M18.9 15.5 L21.7 13.6 L26.1 14.3 L29.2 19.9 L28.9 26.1 L26.1 29.8 L24.8 31.7 L26.1 33.5 L22.3 38.6 L15.5 33.2 L18.6 29.8 L19.4 25.5 L18.6 21Z" fill="#8e4a27"/>
<path d="M21 28 L25.6 30.6 L24.6 31.8Z" fill="#5d2417"/>
<path d="M22.4 25.5 Q24.5 26.6 26.8 25.5 Q24.6 27.3 22.4 25.5Z" fill="#6b1d1d"/>
<path d="M21.2 18.2 L23.6 18" stroke="#2a1a1a" stroke-width=".7"/><circle cx="22.4" cy="20" r=".5" fill="#221"/><circle cx="27.2" cy="20" r=".45" fill="#221"/>
<path d="M13.2 19.5 L14.8 22.5 L13.6 22Z" fill="#8e4a27"/>
</g></svg>
<svg style="left:40.6px;top:463.3px" width="44" height="44" viewBox="0 0 44 44"><defs><clipPath id="c4"><circle cx="22" cy="22" r="21.6"/></clipPath></defs><circle cx="22" cy="22" r="21.7" fill="#f3f1ec"/><g clip-path="url(#c4)">
<path d="M10.2 25.8 Q6.3 22 7.5 19 Q10 14 11.2 9.3 Q16 5 23 6.2 Q27.5 7 28.5 12 Q30 18 31.2 21.7 L30.4 27.6 L24.8 29 L18 27 L15.5 28.8 L9.9 29Z" fill="#fdb906"/>
<path d="M9.9 12.4 L15.5 13.6 L19.9 15.5 L18.9 21.7 L19.9 26.1 L25.5 30.4 L22.3 35.4 L18 38 L15.5 34.8 L14.9 30.4 L15.3 27.4 L10.5 24.8 L9.6 19.9Z" fill="#fbd9d3"/>
<path d="M15.3 27.4 L18.6 26.4 L16.5 28.4Z" fill="#e8584a"/>
<path d="M19.9 15.5 L18.9 21.7 L19.9 26.1 L22 27.5 L23 18Z" fill="#fdb906"/>
<path d="M3 36.8 L12.4 31.7 L14.9 30.7 L15.5 34.8 L18 38 L22.3 35.4 L25.5 30.7 L32.3 32.3 L38.5 36.5 L41 44 L3 44Z" fill="#4fe5d0"/>
<path d="M7 36.5 Q11 35 14 36 M22 37.5 Q26 34 30.5 35 M10 40.5 Q14.5 38.5 19 40.5 M28 39.5 Q32 37 35.5 38.5 M17 43 Q22 41 27 42.5 M11.5 32.8 L14.3 32" fill="none" stroke="#fff" stroke-width="1.1" stroke-linecap="round"/>
<path d="M10.6 22.6 Q12.2 23.6 14.2 22.6 Q12.4 24.4 10.6 22.6Z" fill="#c9655f"/>
<path d="M9.8 13.6 L11.8 13.9 M14.6 14.6 L17.4 15.2" stroke="#6f8a8e" stroke-width=".9"/><circle cx="10.6" cy="16.4" r=".6" fill="#5a7a80"/><circle cx="16" cy="16.6" r=".7" fill="#5a7a80"/>
</g></svg>
<svg style="left:40.6px;top:529.4px" width="44" height="44" viewBox="0 0 44 44"><defs><clipPath id="c5"><circle cx="22" cy="22" r="21.6"/></clipPath></defs><circle cx="22" cy="22" r="21.6" fill="#fff" stroke="#ececec" stroke-width=".8"/><g clip-path="url(#c5)">
<path d="M11.8 19.9 L9.6 24.2 L10.2 27.4 L14.9 27.6 L13 22Z" fill="#1a2140"/>
<path d="M19.2 27.3 L26.1 27.3 L27.3 31 L32.3 34.2 L23 38.5 L14.9 32.9 L19.2 31Z" fill="#fdd0a2"/>
<path d="M20 27.3 L24.5 27.3 L20.5 28.6Z" fill="#e8703a"/>
<path d="M12.1 13.6 L21.1 14.9 L22.3 16.8 L22.5 26.2 L18 27.7 L13.6 26.1 L11.8 21.7Z" fill="#fdd0a2"/>
<path d="M12.1 14.4 L13 9.9 Q15 7 18.6 6.5 Q21 5.8 24.2 6.2 Q28 6.8 29.8 8.7 Q32 11.5 32.3 14.9 L32.6 21.1 Q32.4 23.5 30.4 24.8 L24.2 27.2 L22.3 26.3 L22.3 16.8 L21.1 15 L15.5 14.2Z" fill="#1a2140"/>
<path d="M16.1 10 L15.2 14.2 L16.2 14.3Z" fill="#fdd0a2"/>
<ellipse cx="15.5" cy="23.5" rx="1.6" ry=".8" fill="#f0374c" transform="rotate(12 15.5 23.5)"/>
<path d="M12.6 16.2 L14.6 16.4 M17.4 16.6 L19.8 16.8" stroke="#3a3030" stroke-width=".6"/><circle cx="13.6" cy="17.6" r=".45" fill="#333"/><circle cx="18.6" cy="17.8" r=".45" fill="#333"/>
<path d="M3 39 L6.8 37.3 L11.2 33.5 L14.9 32.9 Q23 39.5 32.3 34.2 L37.9 35.7 L41 44 L3 44Z" fill="#05454c"/>
</g></svg>
<svg style="left:40.6px;top:595.5px" width="44" height="44" viewBox="0 0 44 44"><defs><clipPath id="c6"><circle cx="22" cy="22" r="21.6"/></clipPath></defs><circle cx="22" cy="22" r="21.7" fill="#fcbd06"/><g clip-path="url(#c6)">
<path d="M10.2 15.5 L11.8 11.8 Q14 8.8 16.8 8.1 Q19 6.8 21.1 7.1 Q23.5 7.4 24.8 8.7 Q26.3 10 26.7 12.4 L27.9 18.6 L28.9 22.3 L26.1 24.4 L24.8 19.9 L10.2 19.9 L13 29.4 L15.5 27.3 L12 21Z" fill="#f3f2ec"/>
<path d="M19.9 29.2 L24.8 24.8 L29.2 26.7 L27.9 31 L23 34.8 L19.9 30.4Z" fill="#eba884"/>
<path d="M10.2 15.5 L19.9 14.9 L24.2 16.1 L25.5 21.7 L24.8 26.1 L19.9 29.3 L15.5 27.3 L11.8 22.4Z" fill="#eba884"/>
<path d="M21.5 28.4 L24.6 25 L22 30Z" fill="#cf5f3c"/>
<path d="M10.2 15.6 Q15 13.8 19.9 14.9 L24.2 16.1 L24.6 18 Q22 15.8 19 16 Q14 16 10.4 17.8Z" fill="#f3f2ec"/>
<path d="M24.2 16.1 Q26 17 25.6 21 L24.8 19.9Z" fill="#f3f2ec"/>
<path d="M5 40.5 L7.8 38.5 L13 33.5 L19.9 29.8 L23 34.8 L29.2 26.7 L33.5 29.8 L41 32.6 L42 44 L5 44Z" fill="#05454c"/>
<path d="M19.9 30.4 L20.4 35.8 L23 34.8 L22.8 44 M29.2 27.4 L28 33 L26.4 38 L24 36" fill="none" stroke="#9aa83a" stroke-width=".45"/>
<circle cx="13.2" cy="20.6" r=".6" fill="#2a2a3a"/><circle cx="17.2" cy="18.9" r=".65" fill="#2a2a3a"/>
<path d="M15.6 24.8 Q17.5 25.2 19 24" fill="none" stroke="#c77a5c" stroke-width=".5"/>
</g></svg>
<svg style="left:40.6px;top:661.7px" width="44" height="44" viewBox="0 0 44 44"><defs><clipPath id="c7"><circle cx="22" cy="22" r="21.6"/></clipPath></defs><circle cx="22" cy="22" r="21.7" fill="#e9ebf3"/><g clip-path="url(#c7)">
<path d="M16.1 6.5 Q18.5 4.6 21.7 4.9 Q25 5.2 27.3 6.8 Q30 9 30.7 12.4 L31 19.9 L31.7 26.1 Q32.5 30 35 33.2 L29 32 L23.6 29.8 L17 29 L11.2 29.8 L8.4 34.8 Q6.2 33 6.2 30.4 Q8.5 28.5 9.3 26.1 Q11.5 24 11.8 21.7 L11.5 15.5 Q12 12 13.6 9.9Z" fill="#044a50"/>
<path d="M15.5 8.7 L21.7 12.4 L26.1 14.9 L24.2 19.9 L22.3 24.8 L15.5 25.8 L13.6 19.9 L13 14.9Z" fill="#eda57d"/>
<path d="M19.9 25.3 L22.7 24.2 L23.6 29.8 L24.2 32.3 L21.7 37.3 L18.6 29.8Z" fill="#eda57d"/>
<path d="M19.6 25.4 L22 24.6 L20.6 27.6Z" fill="#d9603c"/>
<path d="M26.1 14.9 Q24.8 18 24.2 19.9 L23 23 L23.8 29.8 L29 31.5 L28 20Z" fill="#044a50"/>
<path d="M5 40 L8.4 38.5 L11.2 30.4 L17.4 29.2 L21.7 40.5 L29.8 31.7 L37.9 35.4 L41 44 L5 44Z" fill="#0bd15c"/>
<path d="M17.4 28.6 L19.9 27.3 L21.7 37.3 L24.8 31.7 L26.7 29.8 L29.8 32.3 L26.1 35.4 L25 34.4 L21.7 40.8 L18.6 33.5Z" fill="#fff"/>
<path d="M14 16.6 L15.4 16.2 M17.4 15.2 L20.6 15.8" stroke="#2b2b2b" stroke-width=".6"/><circle cx="19" cy="17.2" r=".6" fill="#222"/>
<path d="M15 22 Q16.8 22 18.6 20.8 Q17.4 23.2 15.4 23.2Z" fill="#4a5a9a"/>
</g></svg>
<div style="left:1px;top:1px;width:1915px;height:1px;background:#fff;"></div>
<div style="left:1px;top:867px;width:1915px;height:1px;background:#fff;"></div>
<div style="left:1px;top:1px;width:1px;height:867px;background:#fff;"></div>
<div style="left:1915px;top:1px;width:1px;height:867px;background:#fff;"></div>
<div style="left:0px;top:0px;width:1917px;height:1px;background:#0a0a0a;"></div>
<div style="left:0px;top:868px;width:1917px;height:1px;background:#0a0a0a;"></div>
<div style="left:0px;top:0px;width:1px;height:869px;background:#0a0a0a;"></div>
<div style="left:1916px;top:0px;width:1px;height:869px;background:#0a0a0a;"></div>
</div></body></html>
